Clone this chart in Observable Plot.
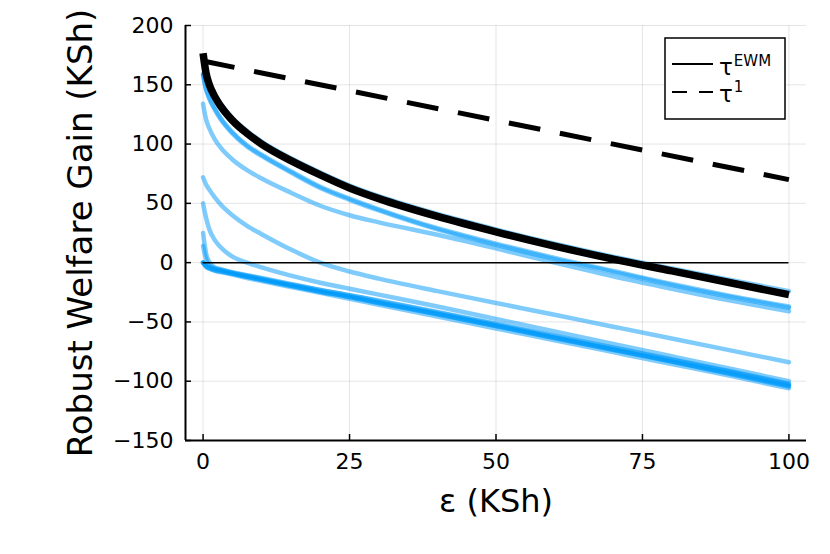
<!DOCTYPE html>
<html>
<head>
<meta charset="utf-8">
<script src="https://cdn.jsdelivr.net/npm/d3@7"></script>
<script src="https://cdn.jsdelivr.net/npm/@observablehq/plot@0.6"></script>
<style>
  html, body { margin: 0; padding: 0; background: #ffffff; }
  svg { display: block; }
</style>
</head>
<body>
<div id="chart"></div>
<script>
// ---- data ----
const eps    = [0, 0.5, 1, 2, 3, 5, 7.5, 10, 15, 20, 25, 30, 40, 50, 60, 70, 80, 90, 100];
const tauEWM = [176.6, 160, 151, 140, 132, 120, 109, 100, 86, 74, 63, 54, 39, 26, 14, 3, -7, -17, -27];
const tau1Eps = [0, 100];
const tau1    = [170, 70];

const blueA = [159, 153, 149, 141, 134, 122, 111, 102, 88, 76, 65, 56, 41, 28, 16, 5, -5, -14.5, -24];
const blueB = [159, 147, 140, 130, 122, 110, 99, 91, 77, 64, 54, 45, 29, 16, 4, -7, -18, -28, -37];
const blueC = [158, 146, 139, 129, 121, 109, 98, 90, 76, 63, 53, 44, 28, 15, 3, -8, -19, -29, -38];
const blueD = [134, 121, 114, 104, 97, 87, 78, 71, 59, 48, 40, 34, 23.5, 12, 0, -11.5, -22, -32, -41];
const blueE = [72, 66, 62, 55, 49, 40, 31, 24, 11, 0, -7.5, -13.5, -24, -34, -44, -54, -64, -74, -84];
const blueF = [50, 38, 29, 19, 13, 5, 0, -4, -11, -17, -22, -27, -37, -47.5, -58, -68.5, -79, -89.5, -100];
const blueG = [25, 8, 1, -4, -5.5, -8.5, -11, -13.5, -18.5, -23, -27.5, -32.5, -42, -52, -62, -72, -82, -92, -102.5];
const blueH = [14, 3, -2, -5, -6.5, -9, -12, -14.5, -19.5, -24.5, -29, -34, -43.5, -53.5, -63.5, -73.5, -83.5, -94, -104.5];
const blueI = [0, -2.5, -3.5, -5, -6, -8, -10.5, -13, -18, -23, -27.5, -32, -41.5, -51.5, -61.5, -71.5, -81.5, -91.5, -102];
const blueJ = [0, -3, -4.5, -6, -7, -9, -11.5, -14, -19, -24, -28.5, -33.5, -43, -53, -63, -73, -83, -93, -103.5];
const blueK = [0, -3, -4.5, -6.5, -7.5, -9.5, -12, -14.5, -19.5, -24.5, -29, -34, -43.5, -53.5, -63.5, -73.5, -83.5, -93.5, -104];
const blueL = [0, -3.5, -5, -7, -8, -10, -13, -15.5, -20.5, -25.5, -30.5, -35.5, -45.5, -55.5, -65.5, -75.5, -85.5, -95.5, -106];

const xTicks = [0, 25, 50, 75, 100];
const yTicks = [-150, -100, -50, 0, 50, 100, 150, 200];
const xDomain = [-3, 103];
const yDomain = [-150, 200];
const zeroRef = [0];
const legendLabels = ["EWM", "1"];
const xLabel = "ε (KSh)";
const yLabel = "Robust Welfare Gain (KSh)";

// ---- tables built from the arrays ----
const blueSeries = [blueA, blueB, blueC, blueD, blueE, blueF, blueG, blueH, blueI, blueJ, blueK, blueL];
const blueRows = blueSeries.flatMap((vals, s) => vals.map((v, i) => ({eps: eps[i], value: v, series: s})));
const ewmRows = tauEWM.map((v, i) => ({eps: eps[i], value: v}));
const tau1Rows = tau1.map((v, i) => ({eps: tau1Eps[i], value: v}));

const W = 830, H = 554;
const mL = 185, mR = 24, mT = 25, mB = 114;
const frameW = W - mL - mR, frameH = H - mT - mB;

const plot = Plot.plot({
  width: W,
  height: H,
  marginLeft: mL,
  marginRight: mR,
  marginTop: mT,
  marginBottom: mB,
  x: {domain: xDomain},
  y: {domain: yDomain},
  style: {fontFamily: "'DejaVu Sans', sans-serif", fontSize: "22px", color: "black", background: "white"},
  marks: [
    Plot.gridX(xTicks, {stroke: "#000", strokeOpacity: 0.1, strokeWidth: 1}),
    Plot.gridY(yTicks, {stroke: "#000", strokeOpacity: 0.1, strokeWidth: 1}),
    Plot.axisX(xTicks, {tickSize: 0, tickPadding: 13, fontSize: 22, label: null}),
    Plot.axisY(yTicks, {tickSize: 0, tickPadding: 12, fontSize: 22, label: null}),
    Plot.line(blueRows, {x: "eps", y: "value", z: "series", stroke: "#009AFA", strokeOpacity: 0.5, strokeWidth: 4.5, curve: "monotone-x"}),
    Plot.ruleY(zeroRef, {y: d => d, x1: () => eps[0], x2: () => eps[eps.length - 1], stroke: "black", strokeWidth: 1.5}),
    Plot.line(ewmRows, {x: "eps", y: "value", stroke: "black", strokeWidth: 7.5, curve: "monotone-x", strokeLinecap: "butt"}),
    Plot.line(tau1Rows, {x: "eps", y: "value", stroke: "black", strokeWidth: 5, strokeDasharray: "32,20", strokeLinecap: "butt"}),
    Plot.ruleX([xDomain[0]], {stroke: "black", strokeWidth: 2}),
    Plot.ruleY([yDomain[0]], {stroke: "black", strokeWidth: 2}),
    Plot.tickX(xTicks, {x: d => d, insetTop: frameH - 6, stroke: "black", strokeWidth: 1.5}),
    Plot.tickY(yTicks, {y: d => d, insetRight: frameW - 6, stroke: "black", strokeWidth: 1.5}),
    Plot.text([xLabel], {text: d => d, frameAnchor: "bottom", lineAnchor: "middle", textAnchor: "middle", dy: 61, fontSize: 32}),
    Plot.text([yLabel], {text: d => d, frameAnchor: "left", lineAnchor: "middle", textAnchor: "middle", rotate: -90, dx: -104, fontSize: 34})
  ]
});

document.getElementById("chart").appendChild(plot);

// ---- legend ----
const svg = d3.select(plot);
const lg = svg.append("g").attr("font-family", "'DejaVu Sans', sans-serif").attr("fill", "black").attr("text-anchor", "start");
lg.append("rect").attr("x", 665).attr("y", 38).attr("width", 120).attr("height", 81)
  .attr("fill", "white").attr("stroke", "black").attr("stroke-width", 1.5);
lg.append("line").attr("x1", 672).attr("x2", 713).attr("y1", 64).attr("y2", 64)
  .attr("stroke", "black").attr("stroke-width", 2);
lg.append("line").attr("x1", 672).attr("x2", 713).attr("y1", 92).attr("y2", 92)
  .attr("stroke", "black").attr("stroke-width", 2).attr("stroke-dasharray", "15,12");
const t1 = lg.append("text").attr("x", 719).attr("y", 75).attr("font-size", 23).attr("text-anchor", "start");
t1.append("tspan").text("τ");
t1.append("tspan").attr("font-size", 15).attr("dy", -9).attr("dx", 1).text(legendLabels[0]);
const t2 = lg.append("text").attr("x", 719).attr("y", 102).attr("font-size", 23).attr("text-anchor", "start");
t2.append("tspan").text("τ");
t2.append("tspan").attr("font-size", 15).attr("dy", -10).attr("dx", 1).text(legendLabels[1]);
</script>
</body>
</html>
